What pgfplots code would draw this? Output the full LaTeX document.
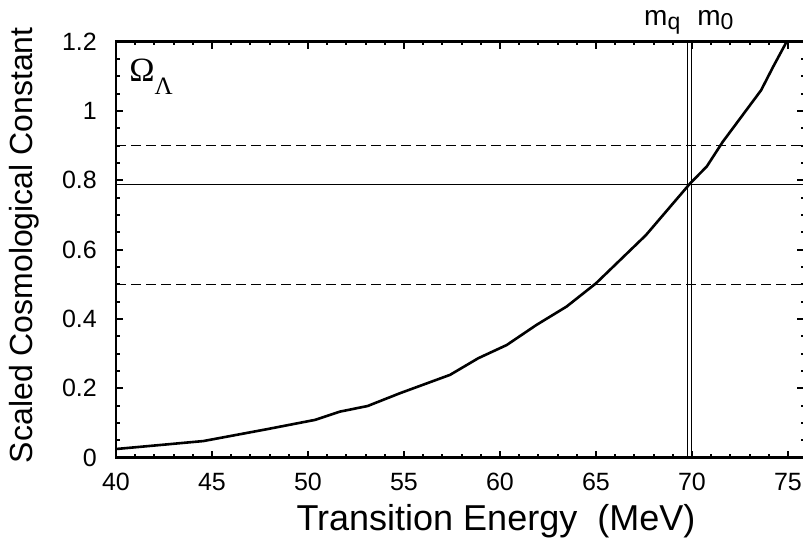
\documentclass[border=0pt]{standalone}
\usepackage{fontspec}
\setmainfont{Liberation Sans}
\newfontfamily\serifgreek{Liberation Serif}
\usepackage{pgfplots}
\pgfplotsset{compat=1.18}
\begin{document}
\begin{tikzpicture}
\begin{axis}[
  at={(116pt,85.3pt)}, anchor=south west,
  width=688.3pt, height=416pt, scale only axis,
  xmin=40, xmax=75.85, ymin=0, ymax=1.2,
  xtick={40,45,...,75}, minor x tick num=4,
  ytick={0,0.2,0.4,0.6,0.8,1,1.2}, minor y tick num=3,
  tick align=inside, major tick length=7pt, minor tick length=3.5pt,
  axis line style={line width=2.5pt},
  tick style={black, line width=2pt},
  tick label style={font=\fontsize{25}{25}\selectfont},
  /pgf/number format/assume math mode=true,
  xticklabel style={inner sep=0pt, yshift=-15pt},
  yticklabel style={inner sep=0pt, xshift=-19pt},
  xlabel={Transition Energy\ \ (MeV)},
  xlabel style={at={(axis description cs:0.552,-0.174)}, anchor=base, font=\fontsize{36}{36}\selectfont},
  ylabel={Scaled Cosmological Constant},
  ylabel style={at={(axis description cs:-0.1206,0.511)}, anchor=base, font=\fontsize{32}{32}\selectfont},
  clip=false,
]
% reference levels
\addplot[black, line width=1pt] coordinates {(40,0.787) (75.85,0.787)};
\addplot[black, line width=1pt, dash pattern=on 10pt off 5pt] coordinates {(40,0.9) (75.85,0.9)};
\addplot[black, line width=1pt, dash pattern=on 10pt off 5pt] coordinates {(40,0.5) (75.85,0.5)};
% m_q and m_0
\addplot[black, line width=1pt] coordinates {(69.75,0) (69.75,1.2)};
\addplot[black, line width=1pt] coordinates {(70.0,0) (70.0,1.2)};
% scaled cosmological constant
\addplot[black, line width=2.6pt, line join=round] coordinates {
  (40,0.025) (44.55,0.048) (47.84,0.082) (50.36,0.109) (51.67,0.133)
  (53.1,0.149) (54.79,0.186) (57.4,0.239) (58.87,0.287) (60.35,0.325)
  (61.9,0.383) (63.47,0.436) (65.0,0.503) (67.6,0.642) (69.9,0.791)
  (70.77,0.84) (71.6,0.911) (73.6,1.06) (74.23,1.128) (74.93,1.2)
};
\node[anchor=base west, inner sep=0pt] at (axis cs:40.68,1.0845)
  {\serifgreek\fontsize{34}{34}\selectfont Ω\raisebox{-13pt}{\fontsize{25}{25}\selectfont Λ}};
\node[anchor=base west, inner sep=0pt] at (axis cs:67.5,1.248)
  {\fontsize{28}{28}\selectfont m\raisebox{-4pt}{\fontsize{23}{23}\selectfont q}};
\node[anchor=base west, inner sep=0pt] at (axis cs:70.27,1.248)
  {\fontsize{28}{28}\selectfont m\raisebox{-4pt}{\fontsize{23}{23}\selectfont 0}};
\end{axis}
\pgfresetboundingbox
\path (0,0) rectangle (803pt,543pt);
\end{tikzpicture}
\end{document}
